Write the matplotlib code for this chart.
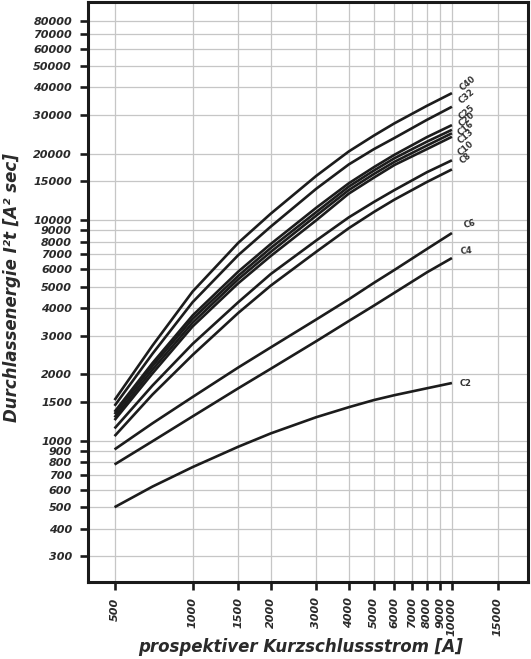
import matplotlib
matplotlib.use("Agg")
import matplotlib.pyplot as plt
from matplotlib.font_manager import FontProperties
from matplotlib.ticker import FixedLocator, FixedFormatter, NullLocator

# ---------------- data ----------------
current_a = [500, 700, 1000, 1500, 2000, 3000, 4000, 5000, 6000, 8000, 10000]

c40 = [1530, 2700, 4750, 7900, 10700, 15900, 20500, 24200, 27500, 33000, 37700]
c32 = [1441, 2480, 4250, 6950, 9350, 13900, 17900, 21000, 23600, 28500, 32700]
c25 = [1353, 2250, 3700, 5850, 7800, 11400, 14700, 17400, 19800, 23800, 27000]
c20 = [1321, 2180, 3570, 5600, 7480, 10900, 14200, 16800, 19100, 22700, 25700]
c16 = [1277, 2100, 3430, 5400, 7180, 10500, 13700, 16200, 18400, 21800, 24800]
c13 = [1241, 2020, 3300, 5180, 6880, 10000, 13200, 15600, 17800, 21000, 23900]
c10 = [1138, 1780, 2750, 4250, 5700, 8100, 10300, 12100, 13700, 16500, 18700]
c8 = [1050, 1620, 2450, 3800, 5050, 7200, 9200, 10900, 12400, 14900, 17000]
c6 = [914, 1200, 1580, 2150, 2650, 3550, 4380, 5200, 5950, 7400, 8750]
c4 = [781, 995, 1290, 1730, 2120, 2830, 3490, 4100, 4690, 5800, 6740]
c2 = [500, 620, 760, 940, 1080, 1280, 1420, 1530, 1610, 1730, 1828]

series = [c40, c32, c25, c20, c16, c13, c10, c8, c6, c4, c2]
series_labels = ["C40", "C32", "C25", "C20", "C16", "C13", "C10", "C8", "C6", "C4", "C2"]

x_ticks = [500, 1000, 1500, 2000, 3000, 4000, 5000, 6000, 7000, 8000, 9000, 10000, 15000]
y_ticks = [300, 400, 500, 600, 700, 800, 900, 1000, 1500, 2000, 3000, 4000, 5000,
           6000, 7000, 8000, 9000, 10000, 15000, 20000, 30000, 40000, 50000,
           60000, 70000, 80000]

# ---------------- styling ----------------
label_offsets_px = [(16, 10), (15, 10), (15, 13), (15, 10), (14, 5), (14, 0),
                    (14, 12), (14, 11), (18, 9), (14, 7), (14, 0)]
label_rot = [40, 40, 40, 40, 40, 40, 40, 40, 15, 5, 0]

W, H = 531, 659
fig = plt.figure(figsize=(W / 100, H / 100), dpi=100)
ax = fig.add_axes([88 / W, 1 - 582 / H, (528 - 88) / W, (582 - 2) / H])

ax.set_xscale("log")
ax.set_yscale("log")
ax.set_xlim(395, 19650)
ax.set_ylim(229, 97600)

ax.xaxis.set_major_locator(FixedLocator(x_ticks))
ax.xaxis.set_major_formatter(FixedFormatter([str(v) for v in x_ticks]))
ax.xaxis.set_minor_locator(NullLocator())
ax.yaxis.set_major_locator(FixedLocator(y_ticks))
ax.yaxis.set_major_formatter(FixedFormatter([str(v) for v in y_ticks]))
ax.yaxis.set_minor_locator(NullLocator())

ax.grid(True, which="major", color="#c6c6c6", linewidth=0.9)
ax.set_axisbelow(True)

for sp in ax.spines.values():
    sp.set_linewidth(2.2)
    sp.set_color("#1a1a1a")

tick_font = FontProperties(family="DejaVu Sans", weight="bold", style="italic", size=8)
ax.tick_params(axis="both", which="major", direction="out", length=6, width=1.9,
               color="#1a1a1a", labelcolor="#2a2a2a")
ax.tick_params(axis="y", pad=5.5)
ax.tick_params(axis="x", pad=5)
for lab in ax.get_yticklabels():
    lab.set_fontproperties(tick_font)
for lab in ax.get_xticklabels():
    lab.set_fontproperties(tick_font)
    lab.set_rotation(90)
    lab.set_va("top")
    lab.set_ha("center")

for vals, name, off, rot in zip(series, series_labels, label_offsets_px, label_rot):
    ax.plot(current_a, vals, color="#1c1c1c", linewidth=1.9, solid_capstyle="butt",
            solid_joinstyle="round")
    ax.annotate(name, xy=(current_a[-1], vals[-1]), xytext=off,
                textcoords="offset pixels", ha="center", va="center",
                rotation=rot, fontsize=6, fontweight="bold", color="#333333",
                family="DejaVu Sans")

fig.text(12 / W, 1 - 288 / H, "Durchlassenergie I²t [A² sec]", rotation=90,
         ha="center", va="center", fontsize=12, fontweight="bold",
         style="italic", color="#2a2a2a", family="DejaVu Sans")
fig.text(301 / W, 1 - 647 / H, "prospektiver Kurzschlussstrom [A]",
         ha="center", va="center", fontsize=12, fontweight="bold",
         style="italic", color="#2a2a2a", family="DejaVu Sans")

fig.savefig("out.png", dpi=100, facecolor="white")
